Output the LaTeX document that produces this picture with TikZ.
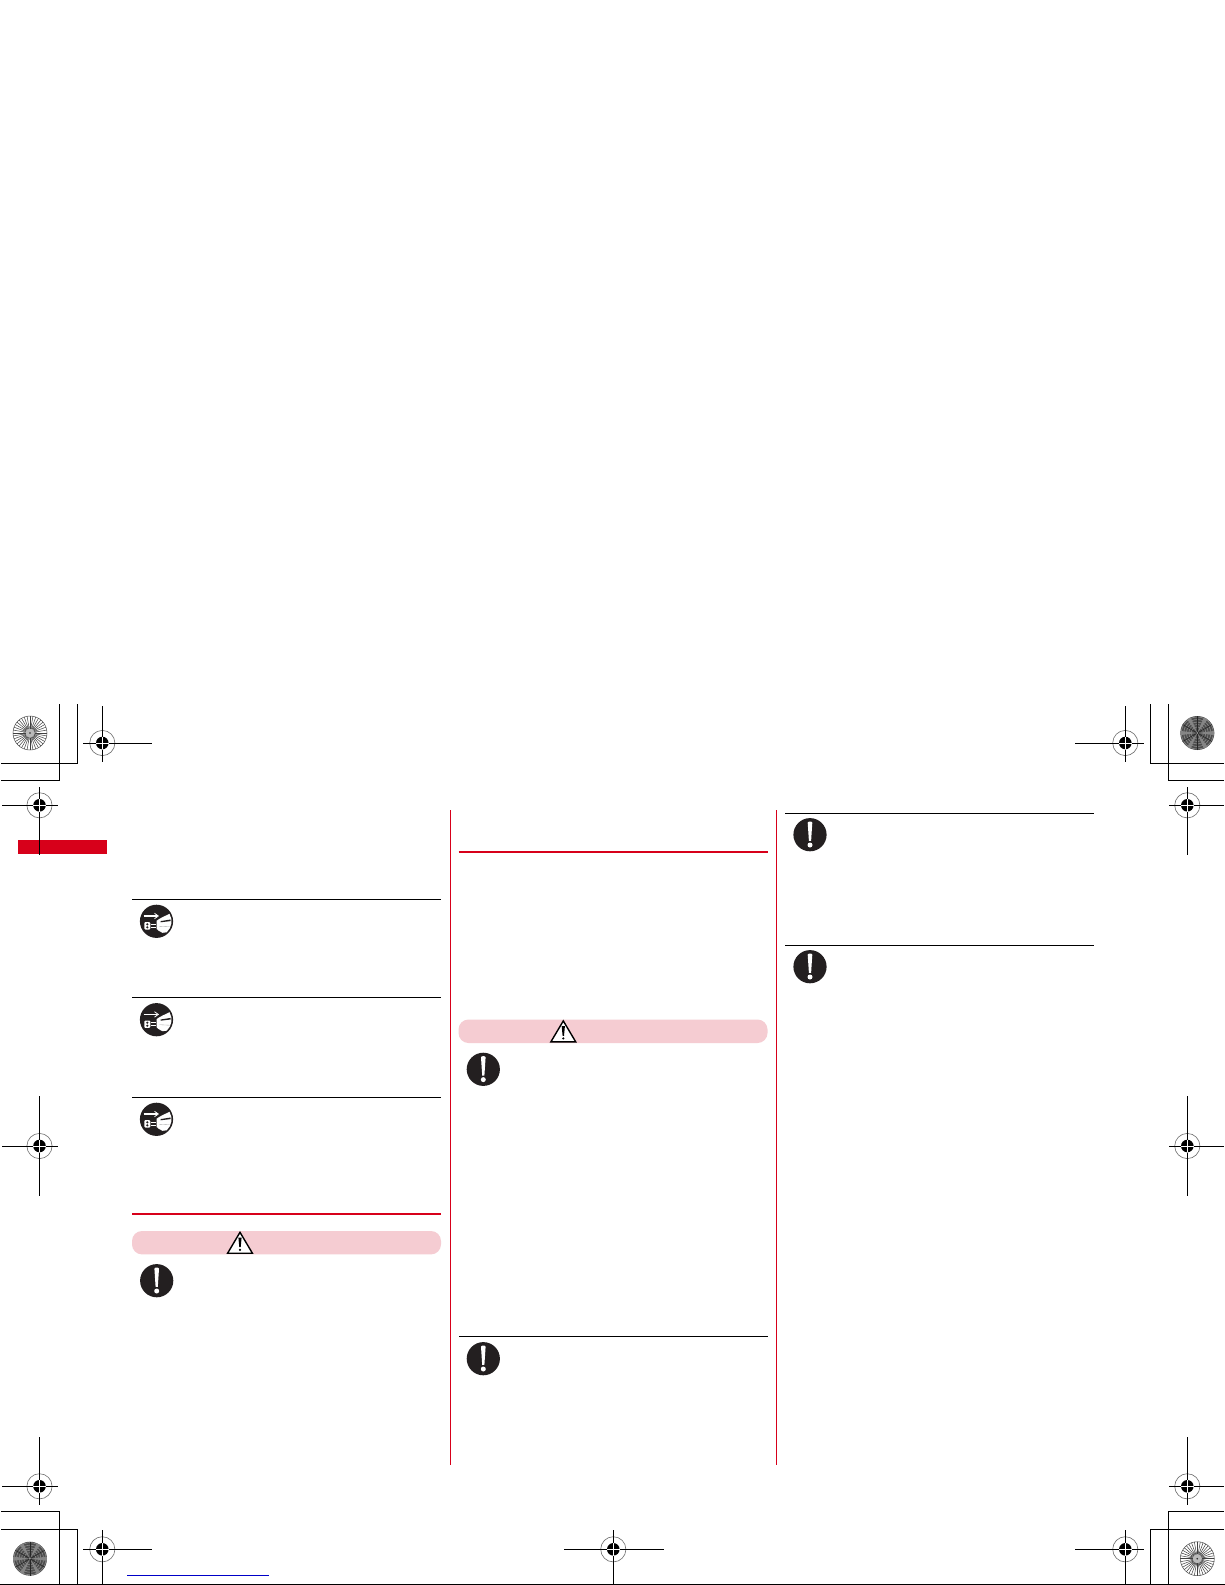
\documentclass[tikz,border=0pt]{standalone}
\definecolor{markred}{HTML}{D7001A}
\definecolor{pinkband}{HTML}{F5CCD2}
\definecolor{icondark}{HTML}{231F20}
\definecolor{linkblue}{HTML}{0000C8}
\tikzset{
  x=1pt,y=-1pt,
  crop/.style={black,line width=0.95pt},
  rulek/.style={black,line width=1.05pt},
  ruler/.style={markred,line width=2pt},
  colsep/.style={markred,line width=1pt},
  regmark/.pic={
    \draw[gray!85!black,line width=0.6pt] (0,0) circle (12.6);
    \fill[black] (0,0) circle (6.3);
  },
  burstlight/.pic={
    \fill[white] (0,0) circle (17);
    \fill[gray!55] (0,0) circle (7);
    \foreach \a in {0,10,...,350}{\draw[black!75,line width=0.5pt] (\a:4.5) -- (\a:17);}
    \draw[black!70,line width=0.5pt] (0,0) circle (17);
    \fill[black!85] (0,0) circle (0.9);
  },
  burstdark/.pic={
    \fill[black!70] (0,0) circle (17);
    \foreach \r in {6,8.5,...,16}{\draw[black!45,line width=0.6pt] (0,0) circle (\r);}
    \foreach \a in {0,60,120,180,240,300}{
      \fill[black!48] (0,0) -- (\a-7:17) arc (\a-7:\a+7:17) -- cycle;
      \draw[black!85,line width=0.6pt] (0,0) -- (\a+30:17);
    }
    \fill[white] (0,0) circle (0.6);
  },
  warnicon/.pic={
    \fill[icondark] (0,0) circle (16.6);
    \fill[white] (-2.3,-12) .. controls (-2.3,-13.6) and (2.3,-13.6) .. (2.3,-12)
      -- (1.1,6.2) -- (-1.1,6.2) -- cycle;
    \fill[white] (0,10.3) circle (2.5);
  },
  plugicon/.pic={
    \fill[icondark] (0,0) circle (16.6);
    \draw[white,line width=1.1pt] (-13,-5.3) -- (0,-5.3);
    \draw[white,line width=0.8pt] (-2,-8) -- (1.8,-5.3) -- (-2,-2.6);
    \fill[white,rounded corners=1pt] (-12.2,0.8) rectangle (-6.2,8.2);
    \fill[icondark] (-9.2,3) circle (1.2) (-9.2,6) circle (1.2);
    \draw[white,line width=1pt] (-6,2.8) -- (-1,2.8) (-6,6.2) -- (-1,6.2);
    \fill[white] (0,-0.5) .. controls (3,-3) and (8,-5) .. (13,-7.5)
      arc (-30:47:15) -- (6,11.5) .. controls (3,10) and (1,9) .. (0,7.5) -- cycle;
    \fill[icondark] (4,-0.2) -- (14,-1.8) -- (14,-0.2) -- (4,1) -- cycle;
    \draw[gray!70,line width=0.35pt] (3,5) -- (13,5.5);
  },
  warntri/.pic={
    \draw[black,line width=1.4pt,line join=miter,fill=white] (0,-10.3) -- (12.4,10.6) -- (-12.4,10.6) -- cycle;
    \fill[black] (-1.6,-5) -- (1.6,-5) -- (0.7,4.6) -- (-0.7,4.6) -- cycle;
    \fill[black] (0,7.2) circle (1.2);
  },
}
\newcommand{\regat}[7]{%
  \pic at (#1,#2) {regmark};
  \draw[white,line width=0.9pt] (#1-6.3,#2) -- (#1+6.3,#2) (#1,#2-6.3) -- (#1,#2+6.3);
  \draw[crop] (#1,#3) -- (#1,#2-6.5) (#1,#2+6.5) -- (#1,#4);
  \draw[crop] (#5,#2) -- (#1-6.5,#2) (#1+6.5,#2) -- (#6,#2);
}
\begin{document}
\begin{tikzpicture}
\useasboundingbox[fill=white] (0,0) rectangle (1225,1585);
\fill[markred] (18,840) rectangle (107,854);
\draw[crop] (1,763) -- (77.5,763) -- (77.5,704);
\draw[crop] (1,780) -- (59.5,780) -- (59.5,704);
\draw[crop] (1224,763) -- (1150.3,763) -- (1150.3,704);
\draw[crop] (1224,780) -- (1168.3,780) -- (1168.3,704);
\draw[crop] (1,1511) -- (59.5,1511) -- (59.5,1584);
\draw[crop] (1,1529) -- (77.5,1529) -- (77.5,1584);
\draw[crop] (1224,1511) -- (1168.3,1511) -- (1168.3,1584);
\draw[crop] (1224,1529) -- (1150.3,1529) -- (1150.3,1584);
\draw[crop] (0,1584) -- (1225,1584);
\pic at (30,733) {burstlight};
\pic at (1197.3,733) {burstdark};
\pic at (30,1558.7) {burstdark};
\pic at (1197.3,1558.7) {burstlight};
\regat{102.3}{743}{706}{761.7}{83}{152}{}
\regat{1125.3}{743}{706}{761.7}{1075}{1144}{}
\regat{39.5}{805.3}{787.3}{854.7}{2}{58}{}
\regat{1187.3}{805.3}{787.3}{854.7}{1169}{1224}{}
\regat{39.5}{1146}{1096}{1195.7}{2}{58}{}
\regat{1187.3}{1146}{1096}{1195.7}{1169}{1224}{}
\regat{39.5}{1486.3}{1437}{1504.7}{2}{58}{}
\regat{1187.3}{1486.3}{1437}{1504.7}{1169}{1224}{}
\regat{102.3}{1549.3}{1530}{1584}{83}{152}{}
\regat{613.3}{1549.3}{1530}{1584}{564}{664}{}
\regat{1125.3}{1549.3}{1530}{1584}{1075}{1144}{}
\draw[linkblue,line width=1pt] (127,1575.3) -- (268.7,1575.3);
\draw[colsep] (450.3,810) -- (450.3,1464.7);
\draw[colsep] (776.3,810) -- (776.3,1464.7);
\draw[rulek] (132,899.3) -- (441,899.3);
\draw[rulek] (132,997.3) -- (441,997.3);
\draw[rulek] (132,1097.3) -- (441,1097.3);
\draw[ruler] (132,1214) -- (441,1214);
\fill[pinkband,rounded corners=10pt] (132,1231) rectangle (441,1254.4);
\pic at (240,1242.6) {warntri};
\pic at (156.5,921.3) {plugicon};
\pic at (156.5,1019.7) {plugicon};
\pic at (156.5,1119.3) {plugicon};
\pic at (156.7,1280.7) {warnicon};
\draw[ruler] (458.5,852) -- (767.5,852);
\fill[pinkband,rounded corners=10pt] (458.5,1019.5) rectangle (767.5,1043);
\pic at (563.3,1031.2) {warntri};
\pic at (483.3,1069.3) {warnicon};
\draw[rulek] (459,1336.3) -- (767.5,1336.3);
\pic at (483.3,1358.7) {warnicon};
\draw[rulek] (785,813.3) -- (1094,813.3);
\draw[rulek] (785,945.3) -- (1094,945.3);
\pic at (810,834.7) {warnicon};
\pic at (810,966.7) {warnicon};
\end{tikzpicture}
\end{document}
